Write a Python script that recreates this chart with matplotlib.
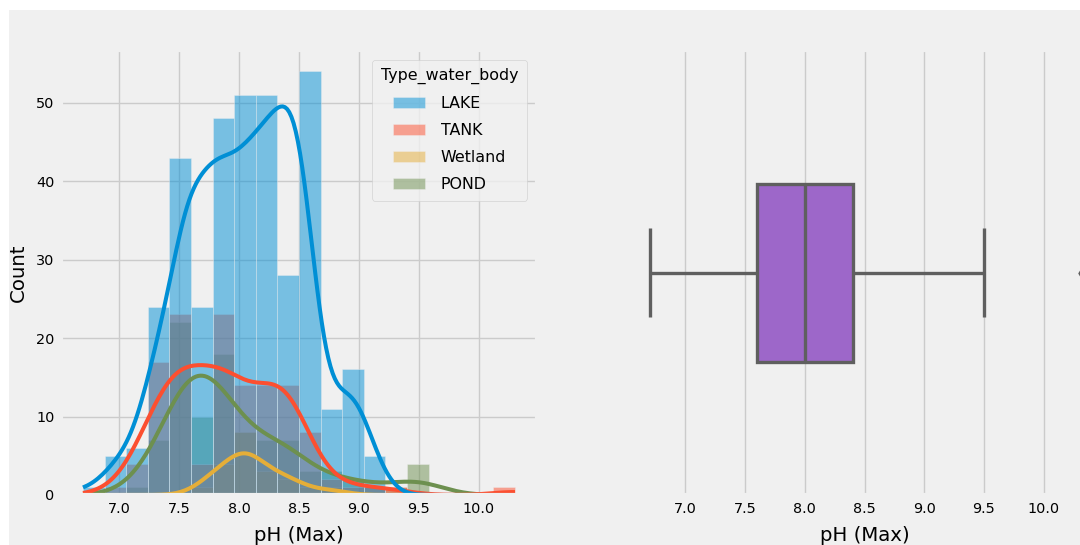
import numpy as np
import matplotlib
matplotlib.use("Agg")
import matplotlib.pyplot as plt
from matplotlib.patches import Rectangle, Patch

plt.style.use("fivethirtyeight")

# ---- data -------------------------------------------------------------
ph_min, ph_max, n_bins = 6.7, 10.3, 20

water_bodies = ["LAKE", "TANK", "Wetland", "POND"]
lake_counts    = [1, 5, 6, 24, 43, 24, 48, 51, 51, 28, 54, 11, 16, 5, 0, 0, 0, 0, 0, 0]
tank_counts    = [0, 1, 4, 17, 23, 4, 23, 14, 14, 14, 8, 2, 1, 1, 1, 0, 0, 0, 0, 1]
wetland_counts = [0, 0, 0, 0, 0, 1, 4, 8, 3, 2, 1, 1, 0, 0, 0, 0, 0, 0, 0, 0]
pond_counts    = [0, 0, 1, 7, 22, 10, 18, 8, 7, 7, 3, 3, 2, 1, 1, 4, 0, 0, 0, 0]
# typical pH (Max) reading inside each histogram bin
bin_readings = [6.7, 6.97, 7.15, 7.33, 7.55, 7.69, 7.84, 8.05, 8.25, 8.4,
                8.52, 8.77, 8.95, 9.1, 9.3, 9.5, 9.67, 9.85, 10.03, 10.3]
palette = ["#008fd5", "#fc4f30", "#e5ae38", "#6d904f"]

# summary of pH (Max) for the box plot
box_q1, box_median, box_q3 = 7.6, 8.0, 8.4
whisker_low, whisker_high = 6.7, 9.5
outliers = [10.3]

# ---- helpers ----------------------------------------------------------
edges = np.linspace(ph_min, ph_max, n_bins + 1)
binwidth = edges[1] - edges[0]
grid = np.linspace(ph_min, ph_max, 200)


def kde_as_counts(counts):
    """Gaussian KDE (Scott bandwidth) scaled to histogram counts."""
    samples = np.repeat(bin_readings, counts)
    n = samples.size
    bw = samples.std(ddof=1) * n ** (-1 / 5)
    z = (grid[:, None] - samples[None, :]) / bw
    dens = np.exp(-0.5 * z ** 2).sum(axis=1) / (n * bw * np.sqrt(2 * np.pi))
    return dens * n * binwidth


# ---- figure -----------------------------------------------------------
W, H = 1080, 545
fig = plt.figure(figsize=(W / 100, H / 100), dpi=100)
fig.patch.set_facecolor("white")
fig.add_artist(Rectangle((9 / W, 0), 1, (H - 10) / H, transform=fig.transFigure,
                         facecolor="#f0f0f0", edgecolor="none", zorder=-10))

ax1 = fig.add_axes([61.4 / W, 50 / H, 475.2 / W, 445 / H])
ax2 = fig.add_axes([628 / W, 50 / H, 473 / W, 445 / H])

tick_fs, label_fs = 10.4, 14.2

# layered histograms (last category drawn first)
series = [lake_counts, tank_counts, wetland_counts, pond_counts]
for counts, color in list(zip(series, palette))[::-1]:
    ax1.bar(edges[:-1], counts, width=binwidth, align="edge", color=color,
            alpha=0.5, edgecolor="#f0f0f0", linewidth=0.5)
for counts, color in list(zip(series, palette))[::-1]:
    ax1.plot(grid, kde_as_counts(counts), color=color, linewidth=2.9,
             solid_capstyle="butt")

handles = [Patch(facecolor=c, alpha=0.5, edgecolor="#f0f0f0", linewidth=0.5)
           for c in palette]
leg = ax1.legend(handles, water_bodies, title="Type_water_body", loc="upper right",
                 fontsize=11.4, title_fontsize=11.4, borderaxespad=0.6,
                 borderpad=0.55, labelspacing=0.75, handletextpad=1.0)

ax1.set_xlabel("pH (Max)", fontsize=label_fs, labelpad=7)
ax1.set_ylabel("Count", fontsize=label_fs, labelpad=6)
ax1.tick_params(labelsize=tick_fs, length=0, pad=5)

# box plot of pH (Max)
stats = [dict(med=box_median, q1=box_q1, q3=box_q3, whislo=whisker_low,
              whishi=whisker_high, fliers=outliers)]
line_c = "#5f5f5f"
ax2.bxp(stats, positions=[0], widths=0.8, capwidths=0.4, orientation="horizontal",
        patch_artist=True,
        boxprops=dict(facecolor="#9d67c9", edgecolor=line_c, linewidth=2.4),
        whiskerprops=dict(color=line_c, linewidth=2.4),
        capprops=dict(color=line_c, linewidth=2.4),
        medianprops=dict(color=line_c, linewidth=2.4),
        flierprops=dict(marker="d", markerfacecolor=line_c, markeredgecolor=line_c,
                        markersize=2.5))
ax2.set_ylim(1, -1)
ax2.set_yticks([])
ax2.yaxis.grid(False)
ax2.set_xlim(ph_min - 0.05 * (ph_max - ph_min), ph_max + 0.05 * (ph_max - ph_min))
ax2.set_xlabel("pH (Max)", fontsize=label_fs, labelpad=7)
ax2.tick_params(labelsize=tick_fs, length=0, pad=5)

fig.savefig("out.png", dpi=100)
